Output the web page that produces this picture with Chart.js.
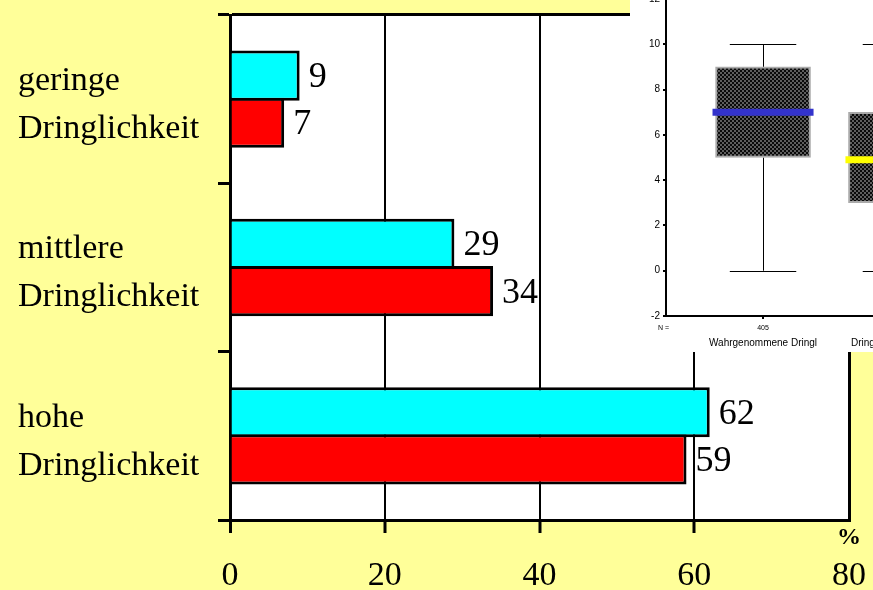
<!DOCTYPE html>
<html>
<head>
<meta charset="utf-8">
<script src="https://cdn.jsdelivr.net/npm/chart.js@4"></script>
<style>
  body { margin: 0; background: #ffff99; overflow: hidden; }
  #wrap { position: relative; width: 873px; height: 590px; overflow: hidden; }
  #haupt { position: absolute; left: 0; top: 0; }
  #box { position: absolute; left: 630px; top: -10px; background: #fff; }
</style>
</head>
<body>
<div id="wrap">
  <canvas id="haupt" width="873" height="590"></canvas>
  <canvas id="box" width="380" height="362"></canvas>
</div>
<script>
// Hauptdiagramm
const kategorien = [["geringe", "Dringlichkeit"], ["mittlere", "Dringlichkeit"], ["hohe", "Dringlichkeit"]];
const werteCyan = [9, 29, 62];
const werteRot = [7, 34, 59];
const xTicks = [0, 20, 40, 60, 80];

// Boxplot oben rechts
const boxNamen = ["Wahrgenommene Dringl", "Dringlichkeit gesamt"];
const boxPos = [1, 2];
const boxN = [405, 405];
const boxMin = [0, 0];
const boxQ1 = [5, 3];
const boxMedian = [7, 4.9];
const boxQ3 = [9, 7];
const boxMax = [10, 10];
const medianFarben = ["#3333cc", "#ffff00"];
const boxYTicks = [-2, 0, 2, 4, 6, 8, 10, 12];

const serif = "'Liberation Serif', 'Times New Roman', serif";
const sans = "'Liberation Sans', Arial, sans-serif";

const weissePlotflaeche = {
  id: "weiss",
  beforeDraw(chart) {
    const { ctx, chartArea: a } = chart;
    ctx.save();
    ctx.fillStyle = "#fff";
    ctx.fillRect(a.left, a.top, a.right - a.left, a.bottom - a.top);
    ctx.restore();
  }
};

const wertBeschriftung = {
  id: "werte",
  afterDatasetsDraw(chart) {
    const ctx = chart.ctx;
    ctx.save();
    ctx.fillStyle = "#000";
    ctx.font = "36px " + serif;
    ctx.textAlign = "left";
    ctx.textBaseline = "middle";
    chart.data.datasets.forEach((ds, d) => {
      chart.getDatasetMeta(d).data.forEach((bar, i) => {
        ctx.fillText(String(ds.data[i]), bar.x + 9, bar.y + 2);
      });
    });
    ctx.font = "bold 24px " + serif;
    ctx.textAlign = "center";
    ctx.fillText("%", chart.chartArea.right, chart.chartArea.bottom + 18);
    ctx.restore();
  }
};

new Chart(document.getElementById("haupt"), {
  type: "bar",
  data: {
    labels: kategorien,
    datasets: [
      { data: werteCyan, backgroundColor: "#00ffff", borderColor: "#000", borderWidth: 3, borderSkipped: "start" },
      { data: werteRot, backgroundColor: "#ff0000", borderColor: "#000", borderWidth: 3, borderSkipped: "start" }
    ]
  },
  options: {
    indexAxis: "y",
    responsive: false,
    animation: false,
    categoryPercentage: 0.56,
    barPercentage: 1.064,
    layout: { padding: { left: 18, top: 15, right: 24, bottom: 0 } },
    plugins: { legend: { display: false }, tooltip: { enabled: false } },
    scales: {
      x: {
        min: 0,
        max: 80,
        afterBuildTicks: s => { s.ticks = xTicks.map(v => ({ value: v })); },
        afterFit: s => { s.height = 70; s.paddingLeft = 0; s.paddingRight = 0; },
        grid: {
          color: "#000",
          lineWidth: c => (c.tick && (c.tick.value === 0 || c.tick.value === 80)) ? 3 : 2,
          tickColor: c => (c.tick && c.tick.value === 80) ? "transparent" : "#000",
          tickWidth: 3,
          tickLength: 13
        },
        border: { color: "#000", width: 3 },
        ticks: { color: "#000", padding: 23, font: { family: serif, size: 34 }, maxRotation: 0 }
      },
      y: {
        afterFit: s => { s.width = 212; s.paddingTop = 0; s.paddingBottom = 0; },
        grid: {
          offset: true,
          color: c => (c.type !== "tick" || c.index === 0) ? "#000" : "transparent",
          tickColor: "#000",
          lineWidth: 3,
          tickLength: 12
        },
        border: { color: "#000", width: 3 },
        ticks: { crossAlign: "far", labelOffset: 6, color: "#000", font: { family: serif, size: 34, lineHeight: 1.41 } }
      }
    }
  },
  plugins: [weissePlotflaeche, wertBeschriftung]
});

// Boxplot
const boxCanvas = document.getElementById("box");
const musterCanvas = document.createElement("canvas");
musterCanvas.width = 4;
musterCanvas.height = 4;
const mg = musterCanvas.getContext("2d");
mg.fillStyle = "#0a0a0a";
mg.fillRect(0, 0, 4, 4);
mg.fillStyle = "#5e5e5e";
mg.fillRect(0, 0, 2, 2);
mg.fillRect(2, 2, 2, 2);
const muster = boxCanvas.getContext("2d").createPattern(musterCanvas, "repeat");

const boxTeile = {
  id: "boxteile",
  beforeDatasetsDraw(chart) {
    const { ctx, scales: { x, y } } = chart;
    ctx.save();
    ctx.strokeStyle = "#000";
    ctx.lineWidth = 1;
    boxPos.forEach((p, i) => {
      const cx = Math.round(x.getPixelForValue(p)) + 0.5;
      const l = x.getPixelForValue(p - 0.25);
      const r = x.getPixelForValue(p + 0.25);
      ctx.beginPath();
      ctx.moveTo(cx, y.getPixelForValue(boxMax[i]));
      ctx.lineTo(cx, y.getPixelForValue(boxQ3[i]));
      ctx.moveTo(cx, y.getPixelForValue(boxQ1[i]));
      ctx.lineTo(cx, y.getPixelForValue(boxMin[i]));
      [boxMax[i], boxMin[i]].forEach(v => {
        const yy = Math.round(y.getPixelForValue(v)) + 0.5;
        ctx.moveTo(l, yy);
        ctx.lineTo(r, yy);
      });
      ctx.stroke();
    });
    ctx.restore();
  },
  afterDatasetsDraw(chart) {
    const { ctx, scales: { x, y } } = chart;
    ctx.save();
    ctx.lineWidth = 7;
    boxPos.forEach((p, i) => {
      ctx.strokeStyle = medianFarben[i];
      const yy = y.getPixelForValue(boxMedian[i]);
      ctx.beginPath();
      ctx.moveTo(x.getPixelForValue(p - 0.38), yy);
      ctx.lineTo(x.getPixelForValue(p + 0.38), yy);
      ctx.stroke();
    });
    ctx.fillStyle = "#000";
    ctx.font = "7px " + sans;
    ctx.textAlign = "left";
    ctx.textBaseline = "middle";
    ctx.fillText("N =", 28, chart.chartArea.bottom + 12);
    ctx.restore();
  }
};

new Chart(boxCanvas, {
  type: "bar",
  data: {
    datasets: [{
      data: boxPos.map((p, i) => ({ x: p, y: [boxQ1[i], boxQ3[i]] })),
      backgroundColor: muster,
      borderColor: "#aaa",
      borderWidth: 2,
      borderSkipped: false,
      barThickness: 95
    }]
  },
  options: {
    responsive: false,
    animation: false,
    layout: { padding: { left: 0, top: 9, right: 21, bottom: 0 } },
    plugins: { legend: { display: false }, tooltip: { enabled: false } },
    scales: {
      x: {
        type: "linear",
        offset: false,
        min: 0.27,
        max: 2.70,
        weight: 0,
        afterBuildTicks: s => { s.ticks = boxPos.map(v => ({ value: v })); },
        afterFit: s => { s.height = 14; s.paddingLeft = 0; s.paddingRight = 0; },
        grid: { offset: false, drawOnChartArea: false, color: "#000", tickLength: 3, lineWidth: 2 },
        border: { color: "#000", width: 2 },
        ticks: { callback: (v, i) => String(boxN[i]), color: "#000", padding: 5, maxRotation: 0, autoSkip: false, font: { family: sans, size: 7 } }
      },
      x2: {
        type: "linear",
        position: "bottom",
        offset: false,
        min: 0.27,
        max: 2.70,
        weight: 1,
        afterBuildTicks: s => { s.ticks = boxPos.map(v => ({ value: v })); },
        afterFit: s => { s.height = 22; s.paddingLeft = 0; s.paddingRight = 0; },
        grid: { display: false, drawTicks: false },
        border: { display: false },
        ticks: { callback: (v, i) => boxNamen[i], color: "#000", padding: 7, maxRotation: 0, autoSkip: false, font: { family: sans, size: 10 } }
      },
      y: {
        min: -2,
        max: 12,
        afterBuildTicks: s => { s.ticks = boxYTicks.map(v => ({ value: v })); },
        afterFit: s => { s.width = 36; },
        grid: { drawOnChartArea: false, color: "#000", tickLength: 3, lineWidth: 2 },
        border: { color: "#000", width: 2 },
        ticks: { color: "#000", padding: 3, font: { family: sans, size: 10 } }
      }
    }
  },
  plugins: [boxTeile]
});
</script>
</body>
</html>
